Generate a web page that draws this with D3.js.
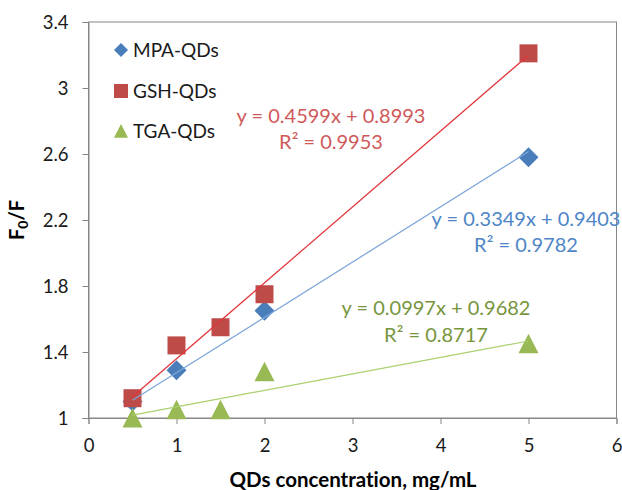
<!DOCTYPE html>
<html>
<head>
<meta charset="utf-8">
<script src="https://cdn.jsdelivr.net/npm/d3@7"></script>
<style>
  body { margin: 0; background: #fff; }
  svg text { font-family: Lato, "Noto Sans", sans-serif; font-variant-ligatures: none; }
</style>
</head>
<body>
<div id="chart"></div>
<script>
// data
const seriesNames = ["MPA-QDs", "GSH-QDs", "TGA-QDs"];
const mpaX = [0.5, 1, 2, 5];
const mpaY = [1.10, 1.29, 1.65, 2.58];
const gshX = [0.5, 1, 1.5, 2, 5];
const gshY = [1.12, 1.44, 1.55, 1.75, 3.21];
const tgaX = [0.5, 1, 1.5, 2, 5];
const tgaY = [1.00, 1.05, 1.05, 1.28, 1.45];

// linear fits as printed on the chart
const slopes = [0.3349, 0.4599, 0.0997];
const intercepts = [0.9403, 0.8993, 0.9682];
const eqLabels = ["y = 0.3349x + 0.9403", "y = 0.4599x + 0.8993", "y = 0.0997x + 0.9682"];
const r2Labels = ["R² = 0.9782", "R² = 0.9953", "R² = 0.8717"];

const xTicks = [0, 1, 2, 3, 4, 5, 6];
const yTicks = [1, 1.4, 1.8, 2.2, 2.6, 3, 3.4];

const W = 622, H = 490;
const svg = d3.select("#chart").append("svg")
    .attr("width", W).attr("height", H);

const x = d3.scaleLinear().domain([0, 6]).range([88.5, 616.5]);
const y = d3.scaleLinear().domain([1, 3.4]).range([418, 22]);

const axisCol = "#868686";

// frame
svg.append("rect")
    .attr("x", x(0)).attr("y", y(3.4))
    .attr("width", x(6) - x(0)).attr("height", y(1) - y(3.4))
    .attr("fill", "none").attr("stroke", axisCol);

// axes
const xAxis = svg.append("g")
    .attr("transform", `translate(0,${y(1)})`)
    .call(d3.axisBottom(x).tickValues(xTicks).tickFormat(d3.format("d")).tickSize(6).tickPadding(15));
const yAxis = svg.append("g")
    .attr("transform", `translate(${x(0)},0)`)
    .call(d3.axisLeft(y).tickValues(yTicks).tickFormat(d => String(d)).tickSize(6).tickPadding(14));
[xAxis, yAxis].forEach(g => {
    g.select(".domain").attr("stroke", axisCol);
    g.selectAll(".tick line").attr("stroke", axisCol);
    g.selectAll(".tick text").attr("font-size", 18.5).attr("fill", "#1a1a1a")
        .style("font-family", "Lato, 'Noto Sans', sans-serif");
});
yAxis.selectAll(".tick text").attr("dy", "0.36em");

// markers
const markerCol = ["#4A7EBB", "#BE4B48", "#98B954"];
const lineCol = ["#7DA7D9", "#E0353C", "#A9D06C"];
const textCol = ["#4F86C6", "#D0595A", "#77953D"];

const diamond = s => `M0,${-s}L${s},0L0,${s}L${-s},0Z`;
const square = s => `M${-s},${-s}H${s}V${s}H${-s}Z`;
const triangle = s => `M0,${-s}L${s},${s * 0.95}L${-s},${s * 0.95}Z`;
const shapes = [diamond, square, triangle];

const series = [
    { xs: mpaX, ys: mpaY },
    { xs: gshX, ys: gshY },
    { xs: tgaX, ys: tgaY }
];
const bigSize = [10, 9, 10];

series.forEach((s, i) => {
    svg.append("g").selectAll("path")
        .data(s.xs.map((v, j) => [v, s.ys[j]]))
        .enter().append("path")
        .attr("transform", d => `translate(${x(d[0])},${y(d[1])})`)
        .attr("d", shapes[i](bigSize[i]))
        .attr("fill", markerCol[i]);
});

// trendlines
const line = d3.line().x(d => x(d[0])).y(d => y(d[1]));
series.forEach((s, i) => {
    const x0 = d3.min(s.xs), x1 = d3.max(s.xs);
    svg.append("path")
        .datum([[x0, slopes[i] * x0 + intercepts[i]], [x1, slopes[i] * x1 + intercepts[i]]])
        .attr("d", line)
        .attr("fill", "none")
        .attr("stroke", lineCol[i])
        .attr("stroke-width", 1.25);
});

// equation labels
const eqPos = [[331, 123, 149], [526, 226, 252], [436, 315, 342]];
const eqOrder = [1, 0, 2];
eqOrder.forEach((i, k) => {
    const p = eqPos[k];
    const g = svg.append("g").attr("fill", textCol[i]).attr("font-size", 20).attr("text-anchor", "middle");
    g.append("text").attr("x", p[0]).attr("y", p[1]).text(eqLabels[i]);
    g.append("text").attr("x", p[0]).attr("y", p[2]).text(r2Labels[i]);
});

// legend
const legendY = [50, 91, 131];
seriesNames.forEach((n, i) => {
    svg.append("path")
        .attr("transform", `translate(121,${legendY[i]})`)
        .attr("d", shapes[i](7))
        .attr("fill", markerCol[i]);
    svg.append("text")
        .attr("x", 133).attr("y", legendY[i] + 7)
        .attr("font-size", 19).attr("fill", "#1a1a1a")
        .text(n);
});

// axis titles
svg.append("text")
    .attr("x", 353).attr("y", 487)
    .attr("text-anchor", "middle")
    .attr("font-size", 20.5).attr("font-weight", "bold")
    .text("QDs concentration, mg/mL");

const yt = svg.append("text")
    .attr("transform", "translate(24,220) rotate(-90)")
    .attr("text-anchor", "middle")
    .attr("font-size", 20).attr("font-weight", "bold");
yt.append("tspan").text("F");
yt.append("tspan").attr("font-size", 14).attr("dy", 4).text("0");
yt.append("tspan").attr("dy", -4).text("/F");
</script>
</body>
</html>
